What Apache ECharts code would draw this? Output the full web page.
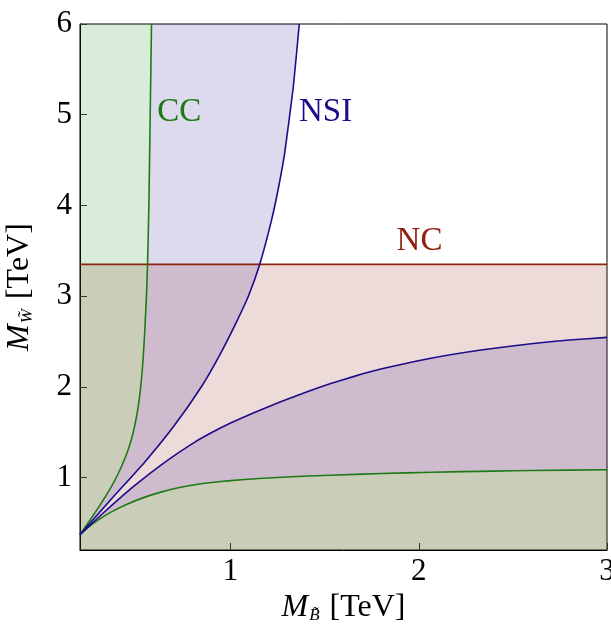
<!DOCTYPE html>
<html>
<head>
<meta charset="utf-8">
<script src="https://cdn.jsdelivr.net/npm/echarts@6/dist/echarts.min.js"></script>
<style>
  html, body { margin: 0; padding: 0; background: #fff; }
  #chart { width: 611px; height: 628px; }
</style>
</head>
<body>
<div id="chart"></div>
<script>
// axis ranges and tick labels
const xRange = [0.2, 3];
const yRange = [0.2, 6];
const xTicks = [1, 2, 3];
const yTicks = [1, 2, 3, 4, 5, 6];

// NC bound (horizontal line)
const ncLevel = 3.35;

// CC bound, two branches from the cusp
const ccUpper = [
  [0.2, 0.37], [0.26, 0.55], [0.323, 0.75], [0.375, 0.93], [0.418, 1.11],
  [0.455, 1.30], [0.482, 1.49], [0.503, 1.70], [0.52, 1.95], [0.535, 2.30],
  [0.545, 2.65], [0.553, 3.00], [0.559, 3.35], [0.566, 4.00], [0.573, 5.00],
  [0.58, 6.00]
];
const ccLower = [
  [0.2, 0.37], [0.25, 0.46], [0.30, 0.535], [0.367, 0.62], [0.45, 0.705],
  [0.545, 0.783], [0.63, 0.838], [0.722, 0.886], [0.81, 0.92], [0.90, 0.945],
  [1.0, 0.965], [1.15, 0.988], [1.30, 1.005], [1.53, 1.025], [1.80, 1.043],
  [2.07, 1.058], [2.40, 1.07], [2.60, 1.076], [3.0, 1.085]
];

// NSI bound, two branches from the cusp
const nsiUpper = [
  [0.2, 0.37], [0.37, 0.77], [0.54, 1.16], [0.70, 1.57], [0.845, 2.00],
  [0.945, 2.36], [1.035, 2.73], [1.095, 3.00], [1.155, 3.35], [1.218, 3.84],
  [1.255, 4.20], [1.287, 4.57], [1.333, 5.30], [1.365, 6.00]
];
const nsiLower = [
  [0.2, 0.37], [0.28, 0.525], [0.367, 0.69], [0.455, 0.85], [0.545, 1.0],
  [0.63, 1.135], [0.722, 1.27], [0.81, 1.39], [0.90, 1.495], [1.0, 1.60],
  [1.13, 1.72], [1.266, 1.835], [1.40, 1.94], [1.532, 2.035], [1.665, 2.12],
  [1.798, 2.195], [2.065, 2.315], [2.331, 2.405], [2.597, 2.475], [2.8, 2.515],
  [3.0, 2.545]
];

const colCC = '#1f7a16';
const colNSI = '#1c0c88';
const colNC = '#8e2410';

const [x0, x1] = xRange;
const [y0, y1] = yRange;

// shaded regions built from the curves
const regions = [
  { fill: 'rgba(140,28,20,0.16)',
    pts: [[x0, y0], [x1, y0], [x1, ncLevel], [x0, ncLevel]] },
  { fill: 'rgba(26,10,140,0.15)',
    pts: [].concat(ccUpper, nsiUpper.slice().reverse(), nsiLower, ccLower.slice().reverse()) },
  { fill: 'rgba(0,128,0,0.15)',
    pts: [].concat([[x0, y1]], ccUpper.slice().reverse(), ccLower, [[x1, y0]], [[x0, y0]]) }
];

const serif = '"Liberation Serif", "DejaVu Serif", serif';

const chart = echarts.init(document.getElementById('chart'));

const curve = (data, color) => ({
  type: 'line', data, symbol: 'none', smooth: 0.15, z: 5,
  lineStyle: { color, width: 1.6 }, animation: false
});

const textMark = (txt, at, color) => ({
  type: 'scatter', data: [at], symbolSize: 0, z: 6, silent: true,
  itemStyle: { opacity: 1, color },
  label: { show: true, position: 'inside', formatter: txt, color,
           textBorderWidth: 0, textBorderColor: 'transparent',
           fontFamily: serif, fontSize: 33 }
});

const axisName = {
  color: '#000', fontFamily: serif, fontSize: 32,
  rich: {
    m: { fontFamily: serif, fontStyle: 'italic', fontSize: 32, color: '#000' },
    s: { fontFamily: serif, fontStyle: 'italic', fontSize: 17, color: '#000',
         padding: [16, 2, 0, 1] },
    n: { fontFamily: serif, fontSize: 32, color: '#000' }
  }
};

chart.setOption({
  animation: false,
  grid: { left: 80, right: 4, top: 24, bottom: 78, containLabel: false,
          outerBoundsMode: 'none',
          show: true, borderColor: '#000', borderWidth: 1, backgroundColor: 'transparent' },
  xAxis: {
    type: 'value', min: x0, max: x1,
    splitLine: { show: false },
    axisLine: { show: true, onZero: false, lineStyle: { color: '#000', width: 1 } },
    axisTick: { show: true, inside: true, length: 7, customValues: xTicks,
                lineStyle: { color: '#333' } },
    axisLabel: { customValues: xTicks, color: '#000', fontFamily: serif,
                 fontSize: 31, margin: 6 },
    name: '{m|M}{s|B\u0303}{n| [TeV]}',
    nameLocation: 'middle', nameGap: 40,
    nameTextStyle: axisName
  },
  yAxis: {
    type: 'value', min: y0, max: y1,
    splitLine: { show: false },
    axisLine: { show: true, onZero: false, lineStyle: { color: '#000', width: 1 } },
    axisTick: { show: true, inside: true, length: 7, customValues: yTicks,
                lineStyle: { color: '#333' } },
    axisLabel: { customValues: yTicks, color: '#000', fontFamily: serif,
                 fontSize: 31, margin: 8 },
    name: '{m|M}{s|W\u0303}{n| [TeV]}',
    nameLocation: 'middle', nameGap: 44, nameRotate: 90,
    nameTextStyle: axisName
  },
  series: [
    {
      type: 'custom', z: 1, silent: true,
      data: regions.map((r, i) => i),
      renderItem: (params, api) => {
        const r = regions[params.dataIndex];
        return {
          type: 'polygon',
          shape: { points: r.pts.map(p => api.coord(p)) },
          style: { fill: r.fill, stroke: null }
        };
      }
    },
    curve([[x0, ncLevel], [x1, ncLevel]], colNC),
    curve(ccUpper, colCC),
    curve(ccLower, colCC),
    curve(nsiUpper, colNSI),
    curve(nsiLower, colNSI),
    textMark('CC', [0.727, 5.03], colCC),
    textMark('NSI', [1.505, 5.03], colNSI),
    textMark('NC', [2.004, 3.605], colNC)
  ]
});
</script>
</body>
</html>
